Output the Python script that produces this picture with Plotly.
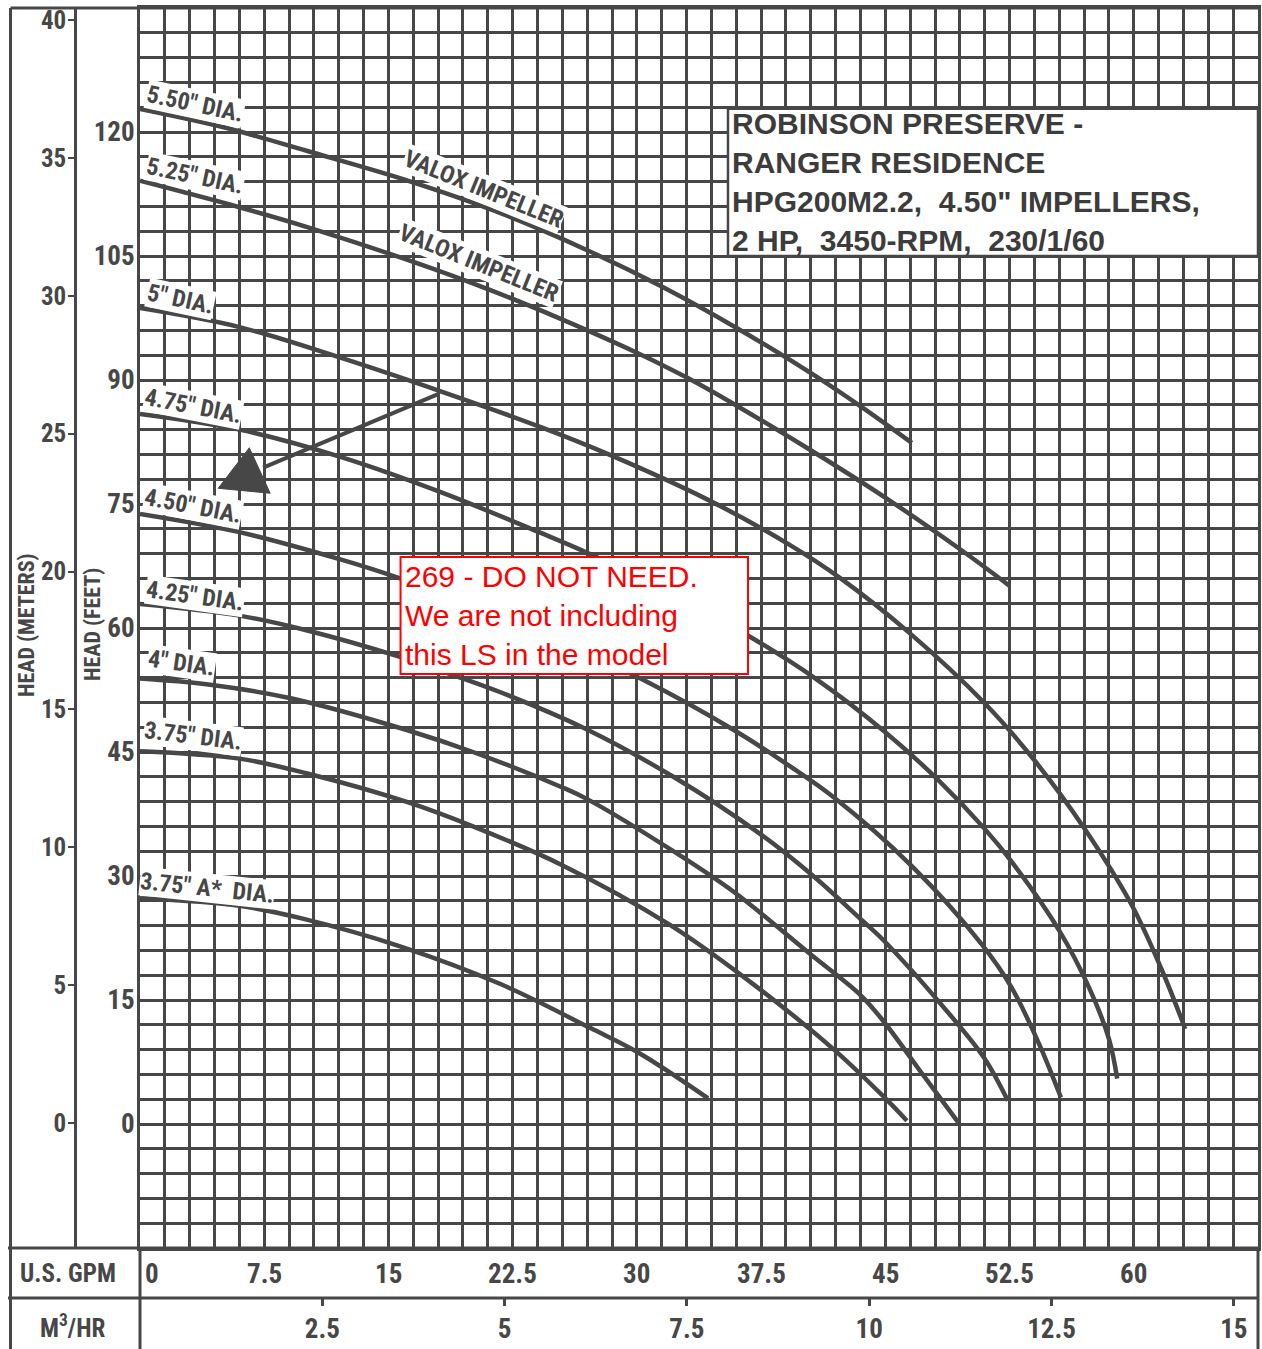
import plotly.graph_objects as go

GPM_PER_M3H = 4.40287
INK = "#474747"
COND = "Roboto Condensed, Liberation Sans Narrow, DejaVu Sans Condensed, Liberation Sans"

# impeller curves: flow in US GPM, head in feet
gpm_550 = [0, 5, 10.1, 16.2, 21.5, 27, 31.5, 36.1, 40.7, 43.6, 46.6]
head_550 = [122.8, 120.6, 117.7, 114.1, 110.4, 105.7, 101.3, 96.2, 90.6, 86.7, 82.4]
gpm_525 = [0, 6, 10.1, 16.2, 21, 25.4, 30, 33.1, 36.1, 40.5, 45.2, 49.6, 52.5]
head_525 = [114.1, 110.9, 108.5, 104.5, 101.0, 97.4, 93.3, 90.2, 86.8, 81.5, 75.5, 69.4, 65.1]
gpm_500 = [0, 6, 12.1, 18.2, 24.2, 28.3, 34.3, 39.1, 42.3, 46.4, 51, 54, 57, 59.9, 61.7, 62.9, 63.1]
head_500 = [98.7, 96.4, 92.7, 88.6, 84.3, 81.0, 75.5, 70.2, 66.0, 59.5, 50.9, 44.0, 35.8, 26.4, 18.6, 12.6, 11.5]
gpm_475 = [0, 6, 12.1, 18.2, 24.2, 27, 31.9, 36.7, 40.7, 45, 48.2, 51, 52.6, 55.5, 57.3, 58.5, 59]
head_475 = [85.9, 84.0, 80.7, 76.4, 71.5, 69.1, 64.4, 59.1, 54.0, 47.4, 41.6, 35.7, 31.8, 23.4, 16.5, 10.3, 5.5]
gpm_450 = [0, 6, 12.1, 15.7, 23, 30.4, 35.9, 39.3, 41.9, 46.6, 50.8, 52.6, 54.3, 55.6]
head_450 = [73.8, 71.6, 68.3, 66.0, 60.5, 53.7, 47.6, 43.2, 39.5, 31.2, 21.8, 16.6, 9.6, 3.2]
gpm_425 = [0, 6, 10.1, 15.7, 19.2, 21.8, 26.8, 32.2, 37.5, 40.7, 43.5, 44.9, 48.4, 51, 52.4]
head_425 = [62.9, 61.5, 59.7, 56.5, 54.1, 52.2, 47.9, 42.0, 35.0, 29.9, 24.8, 22.2, 14.4, 7.9, 2.8]
gpm_400 = [0, 4, 9.1, 16.2, 20.1, 25.4, 27, 32.2, 35.9, 40.5, 43.5, 44.9, 47.4, 49.4]
head_400 = [53.9, 53.2, 51.5, 47.6, 45.0, 40.8, 39.3, 33.0, 28.0, 20.5, 15.6, 12.4, 5.6, 0.2]
gpm_375 = [0, 6, 10.1, 16.2, 20.1, 25.4, 31.9, 36.9, 41.9, 44.9, 46.3]
head_375 = [45.1, 44.2, 42.4, 38.9, 36.0, 31.4, 24.2, 17.1, 9.0, 3.3, 0.4]
gpm_375a = [0, 6, 9.7, 15.7, 21.8, 27.2, 30.2, 34.3]
head_375a = [27.3, 26.4, 24.9, 21.5, 16.9, 11.6, 8.5, 3.1]

curves = [
    (gpm_550, head_550), (gpm_525, head_525), (gpm_500, head_500),
    (gpm_475, head_475), (gpm_450, head_450), (gpm_425, head_425),
    (gpm_400, head_400), (gpm_375, head_375), (gpm_375a, head_375a),
]

# hand-drawn pointer (line + filled triangle)
pointer_gpm = [18.0, 7.44]
pointer_head = [88.3, 79.4]
arrowhead_gpm = [6.6, 4.72, 7.86, 6.6]
arrowhead_head = [81.8, 76.9, 76.3, 81.8]

# axis ticks
gpm_ticks = [0, 7.5, 15, 22.5, 30, 37.5, 45, 52.5, 60]
gpm_labels = ["0", "7.5", "15", "22.5", "30", "37.5", "45", "52.5", "60"]
m3h_ticks = [2.5, 5, 7.5, 10, 12.5, 15]
feet_ticks = [0, 15, 30, 45, 60, 75, 90, 105, 120]
meter_ticks = [0, 5, 10, 15, 20, 25, 30, 35, 40]

# curve labels: text, gpm, feet, angle
curve_labels = [
    ('5.50" DIA.', 3.33, 123.4, 12),
    ('5.25" DIA.', 3.33, 114.7, 12),
    ('5" DIA.', 2.42, 99.8, 12),
    ('4.75" DIA.', 3.21, 86.8, 11),
    ('4.50" DIA.', 3.21, 74.8, 11),
    ('4.25" DIA.', 3.33, 63.9, 8),
    ('4" DIA.', 2.48, 55.8, 8),
    ('3.75" DIA.', 3.21, 46.9, 7),
    ('3.75" A*  DIA.', 4.05, 28.6, 6),
    ("VALOX IMPELLER", 20.74, 113.1, 22),
    ("VALOX IMPELLER", 20.44, 104.1, 22),
]

fig = go.Figure()

for gx, hy in curves:
    fig.add_trace(go.Scatter(
        x=gx, y=hy, mode="lines",
        line=dict(color=INK, width=4.5, shape="spline", smoothing=1.0),
        hoverinfo="skip", showlegend=False,
    ))

fig.add_trace(go.Scatter(
    x=pointer_gpm, y=pointer_head, mode="lines",
    line=dict(color=INK, width=4), hoverinfo="skip", showlegend=False,
))
fig.add_trace(go.Scatter(
    x=arrowhead_gpm, y=arrowhead_head, mode="lines", fill="toself",
    fillcolor=INK, line=dict(color=INK, width=1),
    hoverinfo="skip", showlegend=False,
))
# dummy trace so the secondary axes render
fig.add_trace(go.Scatter(
    x=[0], y=[0], xaxis="x2", yaxis="y2", mode="markers",
    marker=dict(opacity=0), hoverinfo="skip", showlegend=False,
))

W, H = 1262, 1349
ML, MR, MT, MB = 8, 4, 8, 0
PW, PH = W - ML - MR, H - MT - MB


def px_x(p):
    return (p - ML) / PW


def px_y(p):
    return (H - MB - p) / PH


grid = dict(showgrid=True, gridcolor=INK, gridwidth=2.6)
tick_font = dict(size=27, color=INK, family=COND, weight="bold")
meter_font = dict(size=25, color=INK, family=COND, weight="bold")

fig.update_layout(
    width=W, height=H,
    margin=dict(l=ML, r=MR, t=MT, b=MB),
    paper_bgcolor="white", plot_bgcolor="white",
    font=dict(family=COND, color=INK),
    xaxis=dict(
        domain=[px_x(140), 1], range=[0, 67.5],
        tickmode="array", tickvals=gpm_ticks, showticklabels=False, ticks="",
        minor=dict(dtick=1.5, tick0=0, ticks="", **grid),
        zeroline=False, showline=True, mirror=True, linecolor=INK, linewidth=3,
        automargin=False, **grid,
    ),
    yaxis=dict(
        domain=[px_y(1248), 1], range=[-15, 135],
        tickmode="array", tickvals=feet_ticks, ticks="", tickfont=tick_font,
        minor=dict(dtick=3, tick0=0, ticks="", **grid),
        zeroline=False, showline=True, mirror=True, linecolor=INK, linewidth=3,
        automargin=False, ticklabelstandoff=-3, **grid,
    ),
    xaxis2=dict(
        overlaying="x", anchor="free", position=px_y(1298), side="bottom",
        range=[0, 67.5 / GPM_PER_M3H], tickmode="array", tickvals=m3h_ticks,
        ticks="outside", ticklen=7, tickwidth=2.5, tickcolor=INK,
        tickfont=tick_font,
        showgrid=False, zeroline=False, showline=False, automargin=False,
        ticklabelstandoff=0,
    ),
    yaxis2=dict(
        overlaying="y", anchor="free", position=px_x(75), side="left",
        range=[-(1248 - 1123) / 27.575, (1123 - 8) / 27.575],
        tickmode="array", tickvals=meter_ticks,
        ticks="outside", ticklen=6, tickwidth=2, tickcolor=INK,
        tickfont=meter_font, ticklabelstandoff=-3,
        showgrid=False, zeroline=False, showline=True, linecolor=INK,
        linewidth=2.5, automargin=False,
    ),
)

ann = []
for text, gx, fy, ang in curve_labels:
    ann.append(dict(
        x=gx, y=fy, text=text, showarrow=False, textangle=ang,
        font=dict(size=24, color=INK, family=COND, weight="bold"),
        bgcolor="white", borderpad=0,
    ))

for v, lab in zip(gpm_ticks, gpm_labels):
    ann.append(dict(
        x=v, y=px_y(1274), yref="paper", text=lab, showarrow=False,
        xanchor="left" if v == 0 else "center", yanchor="middle",
        xshift=3 if v == 0 else 0, font=tick_font,
    ))

ann += [
    dict(x=px_x(68), y=px_y(1273), xref="paper", yref="paper", text="U.S. GPM",
         showarrow=False, xanchor="center", yanchor="middle",
         font=dict(size=25, color=INK, family=COND, weight="bold")),
    dict(x=px_x(72), y=px_y(1326), xref="paper", yref="paper",
         text="M<sup>3</sup>/HR", showarrow=False, xanchor="center",
         yanchor="middle",
         font=dict(size=25, color=INK, family=COND, weight="bold")),
    dict(x=px_x(26), y=px_y(625), xref="paper", yref="paper",
         text="HEAD (METERS)", textangle=-90, showarrow=False,
         xanchor="center", yanchor="middle",
         font=dict(size=22, color=INK, family=COND, weight="bold")),
    dict(x=px_x(92), y=px_y(625), xref="paper", yref="paper",
         text="HEAD (FEET)", textangle=-90, showarrow=False,
         xanchor="center", yanchor="middle",
         font=dict(size=22, color=INK, family=COND, weight="bold")),
    dict(x=35.6, y=114.0, text=("ROBINSON PRESERVE -<br>RANGER RESIDENCE<br>"
                                "HPG200M2.2,  4.50\" IMPELLERS,<br>"
                                "2 HP,  3450-RPM,  230/1/60"),
         showarrow=False, xanchor="left", yanchor="middle", align="left",
         font=dict(size=30, color="#3c3c3c",
                   family="Liberation Sans, Arial, sans-serif", weight="bold")),
    dict(x=15.9, y=61.5, text=("269 - DO NOT NEED.<br>We are not including<br>"
                               "this LS in the model"),
         showarrow=False, xanchor="left", yanchor="middle", align="left",
         font=dict(size=30, color="#ff0000",
                   family="Liberation Sans, Arial, sans-serif")),
]
fig.update_layout(annotations=ann)

shapes = [
    # info box and red note
    dict(type="rect", xref="x", yref="y", x0=35.5, x1=67.5, y0=105.0, y1=122.8,
         fillcolor="white", line=dict(color=INK, width=2.5), layer="above"),
    dict(type="rect", xref="x", yref="y", x0=15.73, x1=36.71, y0=54.43, y1=68.59,
         fillcolor="white", line=dict(color="#ff0000", width=2), layer="above"),
]
frame = [
    (0.002, 1, 1, 1),
    (0.002, 0.002, 0, 1),
    (0, 1, px_y(1248), px_y(1248)),
    (0, 1, px_y(1298), px_y(1298)),
    (px_x(140), px_x(140), 0, px_y(1248)),
    (1, 1, 0, px_y(1248)),
]
for x0, x1, y0, y1 in frame:
    shapes.append(dict(type="line", xref="paper", yref="paper",
                       x0=x0, x1=x1, y0=y0, y1=y1,
                       line=dict(color=INK, width=3)))
fig.update_layout(shapes=shapes)

fig.write_html(
    "out.html",
    config={"displayModeBar": False},
    post_script="document.body.style.margin='0';document.body.style.overflow='hidden';",
)
